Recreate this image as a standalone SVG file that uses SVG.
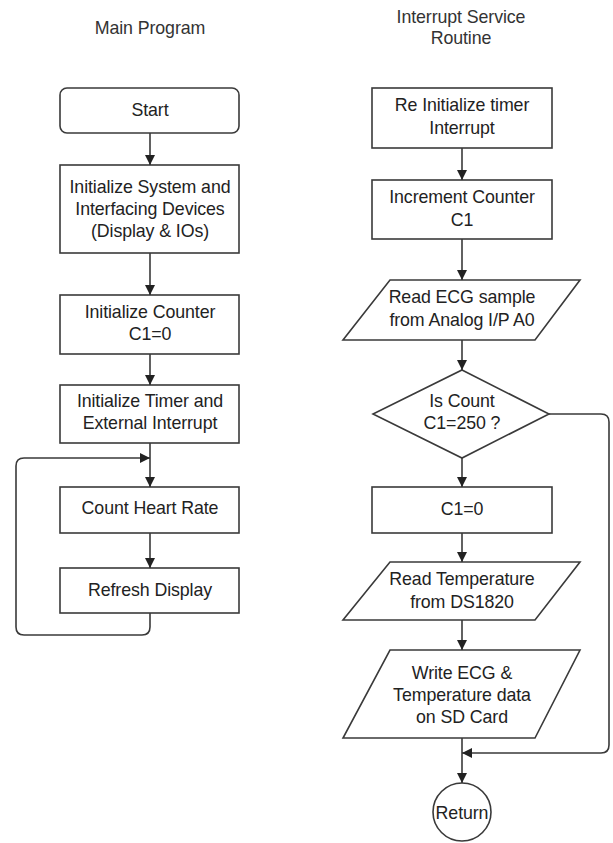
<svg xmlns="http://www.w3.org/2000/svg" width="613" height="843" viewBox="0 0 613 843">
<style>
.s{fill:#fff;stroke:#3a3a3a;stroke-width:1.6}
.c{fill:none;stroke:#3a3a3a;stroke-width:1.6}
text{font-family:"Liberation Sans",Arial,sans-serif;font-size:17.8px;fill:#222;text-anchor:middle;letter-spacing:-0.1px}
.t{fill:#333}
</style>
<defs>
<marker id="ah" viewBox="0 0 10 10" refX="10" refY="5" markerWidth="10" markerHeight="10" markerUnits="userSpaceOnUse" orient="auto">
<path d="M0,0 L10,5 L0,10 Z" fill="#222"/>
</marker>
</defs>
<rect width="613" height="843" fill="#fff"/>
<g id="titles">
<text class="t" x="150" y="34">Main Program</text>
<text class="t" x="461" y="23">Interrupt Service</text>
<text class="t" x="461" y="44">Routine</text>
</g>
<g id="start"><rect class="s" x="60" y="88" width="179" height="45" rx="7"/><text x="150" y="116">Start</text></g>
<g id="initsys"><rect class="s" x="60" y="165" width="179" height="88"/><text x="150" y="193">Initialize System and</text><text x="150" y="215">Interfacing Devices</text><text x="150" y="237">(Display &amp; IOs)</text></g>
<g id="initcnt"><rect class="s" x="60" y="295" width="179" height="59"/><text x="150" y="318">Initialize Counter</text><text x="150" y="340">C1=0</text></g>
<g id="inittmr"><rect class="s" x="60" y="385" width="179" height="58"/><text x="150" y="407">Initialize Timer and</text><text x="150" y="429">External Interrupt</text></g>
<g id="count"><rect class="s" x="60" y="487" width="179" height="46"/><text x="150" y="514">Count Heart Rate</text></g>
<g id="refresh"><rect class="s" x="60" y="568" width="179" height="45"/><text x="150" y="596">Refresh Display</text></g>
<g id="reinit"><rect class="s" x="372" y="88" width="180" height="60"/><text x="462" y="111">Re Initialize timer</text><text x="462" y="134">Interrupt</text></g>
<g id="incr"><rect class="s" x="372" y="180" width="180" height="59"/><text x="462" y="203">Increment Counter</text><text x="462" y="226">C1</text></g>
<g id="readecg"><polygon class="s" points="390,280 580,280 535,340 343,340"/><text x="462" y="303">Read ECG sample</text><text x="462" y="326">from Analog I/P A0</text></g>
<g id="decision"><polygon class="s" points="462,370 549,414 462,458 373,414"/><text x="462" y="407">Is Count</text><text x="462" y="429">C1=250 ?</text></g>
<g id="reset"><rect class="s" x="372" y="487" width="180" height="46"/><text x="462" y="515">C1=0</text></g>
<g id="readtemp"><polygon class="s" points="390,562 580,562 535,620 343,620"/><text x="462" y="585">Read Temperature</text><text x="462" y="608">from DS1820</text></g>
<g id="write"><polygon class="s" points="390,650 580,650 535,738 343,738"/><text x="462" y="679">Write ECG &amp;</text><text x="462" y="701">Temperature data</text><text x="462" y="723">on SD Card</text></g>
<g id="ret"><circle class="s" cx="462" cy="812" r="29"/><text x="462" y="819">Return</text></g>
<g id="connectors">
<line class="c" x1="150" y1="133" x2="150" y2="165" marker-end="url(#ah)"/>
<line class="c" x1="150" y1="253" x2="150" y2="295" marker-end="url(#ah)"/>
<line class="c" x1="150" y1="354" x2="150" y2="385" marker-end="url(#ah)"/>
<line class="c" x1="150" y1="443" x2="150" y2="487" marker-end="url(#ah)"/>
<line class="c" x1="150" y1="533" x2="150" y2="568" marker-end="url(#ah)"/>
<path class="c" d="M150,613 V627 Q150,635 142,635 H24 Q16,635 16,627 V466 Q16,458 24,458 H150" marker-end="url(#ah)"/>
<line class="c" x1="462" y1="148" x2="462" y2="180" marker-end="url(#ah)"/>
<line class="c" x1="462" y1="239" x2="462" y2="280" marker-end="url(#ah)"/>
<line class="c" x1="462" y1="340" x2="462" y2="370" marker-end="url(#ah)"/>
<line class="c" x1="462" y1="458" x2="462" y2="487" marker-end="url(#ah)"/>
<line class="c" x1="462" y1="533" x2="462" y2="562" marker-end="url(#ah)"/>
<line class="c" x1="462" y1="620" x2="462" y2="650" marker-end="url(#ah)"/>
<line class="c" x1="462" y1="738" x2="462" y2="783" marker-end="url(#ah)"/>
<path class="c" d="M549,414 H601 Q609,414 609,422 V745 Q609,753 601,753 H462" marker-end="url(#ah)"/>
</g>
</svg>
